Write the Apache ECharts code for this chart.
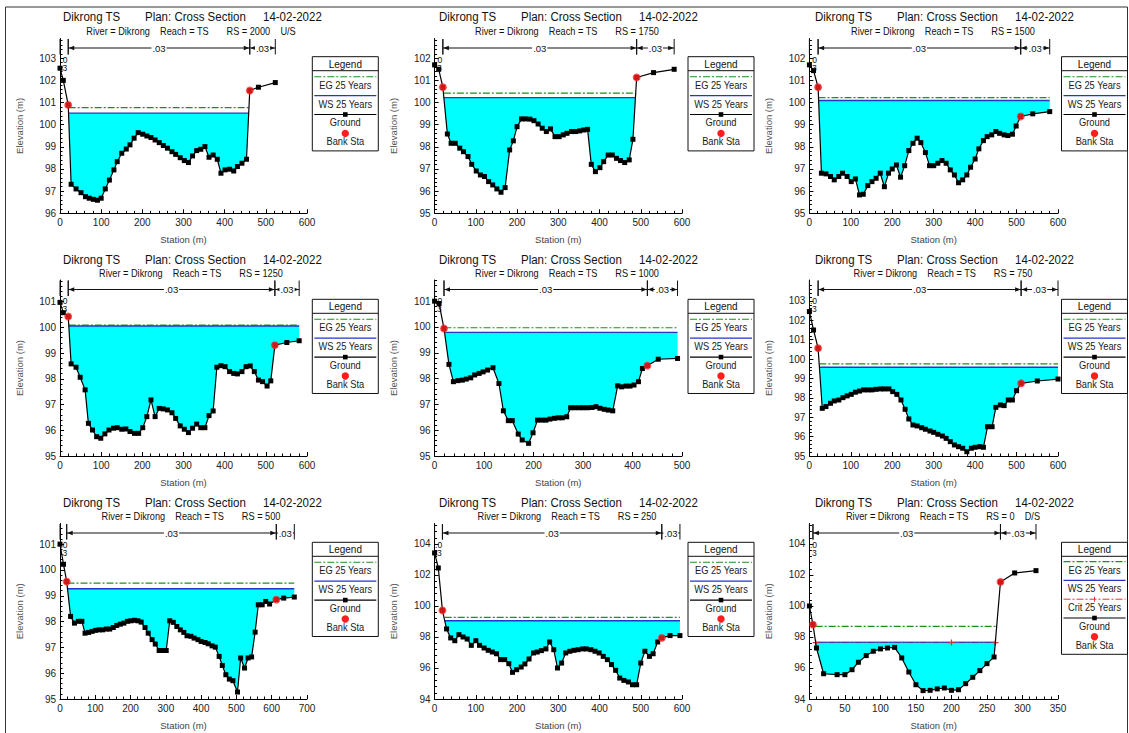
<!DOCTYPE html>
<html>
<head>
<meta charset="utf-8">
<title>Dikrong TS - Cross Sections</title>
<script src="https://cdn.jsdelivr.net/npm/echarts@6/dist/echarts.min.js"></script>
<style>
  html, body { margin: 0; padding: 0; background: #fff; }
  #chart { width: 1129px; height: 733px; }
</style>
</head>
<body>
<div id="chart"></div>
<script>
// ---- River stations (upstream to downstream) ----
const riverStations = ['2000', '1750', '1500', '1250', '1000', '750', '500', '250', '0'];
const stationNotes = ['U/S', '', '', '', '', '', '', '', 'D/S'];

// ---- Ground profiles: [station (m), elevation (m)] ----
const ground2000 = [[0,102.55],[8,102.0],[20,100.89],[27,97.31],[39,97.1],[51,96.93],[62,96.75],[71,96.68],[81,96.63],[91,96.59],[100,96.68],[110,97.1],[120,97.5],[131,97.96],[139,98.33],[150,98.71],[161,98.9],[170,99.09],[180,99.39],[190,99.64],[201,99.57],[211,99.49],[221,99.42],[231,99.31],[241,99.19],[251,99.06],[261,98.94],[272,98.78],[281,98.66],[292,98.51],[302,98.38],[312,98.29],[322,98.59],[332,98.83],[342,98.89],[352,99.01],[362,98.53],[372,98.63],[382,98.44],[391,97.81],[401,97.96],[412,97.99],[422,97.91],[431,98.11],[442,98.26],[453,98.44],[461,101.54],[482,101.69],[523,101.9]];
const ground1750 = [[0,101.7],[10,101.5],[20,100.69],[31,98.58],[40,98.16],[50,98.16],[61,97.94],[70,97.78],[81,97.56],[90,97.21],[101,96.91],[111,96.73],[121,96.66],[131,96.43],[141,96.28],[151,96.1],[161,95.95],[171,96.16],[182,97.86],[191,98.27],[200,98.91],[211,99.26],[220,99.26],[231,99.25],[241,99.18],[251,99.03],[261,98.84],[271,98.69],[281,98.81],[292,98.46],[302,98.46],[312,98.54],[321,98.61],[332,98.69],[342,98.69],[352,98.72],[362,98.76],[371,98.79],[380,97.21],[390,96.88],[401,97.06],[410,97.33],[421,97.63],[431,97.63],[441,97.48],[451,97.38],[461,97.29],[472,97.41],[481,98.34],[490,101.13],[531,101.35],[581,101.5]];
const ground1500 = [[0,101.7],[10,101.44],[21,100.69],[29,96.81],[40,96.78],[51,96.66],[60,96.51],[71,96.66],[80,96.81],[91,96.66],[101,96.43],[111,96.55],[121,95.83],[130,95.86],[141,96.25],[151,96.43],[161,96.58],[171,96.81],[181,96.2],[191,96.81],[200,97.0],[210,97.18],[220,96.63],[230,97.15],[240,97.83],[250,98.16],[260,98.39],[269,98.19],[280,97.74],[290,97.15],[300,97.15],[310,97.26],[320,97.38],[330,97.26],[340,96.96],[350,96.73],[360,96.38],[370,96.51],[380,96.73],[389,97.08],[400,97.45],[409,97.91],[420,98.28],[429,98.46],[440,98.54],[450,98.69],[459,98.61],[470,98.54],[479,98.51],[490,98.57],[499,98.94],[510,99.37],[539,99.49],[580,99.59]];
const ground1250 = [[0,100.97],[8,100.57],[20,100.42],[27,98.58],[39,98.45],[49,98.06],[61,97.57],[69,96.27],[79,96.01],[89,95.75],[99,95.69],[109,95.86],[119,96.01],[130,96.08],[139,96.1],[150,96.04],[160,96.05],[170,95.95],[181,95.88],[191,95.88],[201,96.1],[211,96.53],[221,97.18],[231,96.53],[241,96.85],[251,96.83],[261,96.79],[272,96.68],[281,96.46],[292,96.17],[302,96.04],[312,95.91],[322,96.08],[332,96.24],[342,96.1],[352,96.1],[362,96.57],[372,96.75],[381,98.45],[391,98.51],[401,98.47],[412,98.28],[422,98.21],[431,98.19],[442,98.28],[452,98.47],[462,98.5],[472,98.28],[482,97.95],[492,97.89],[503,97.72],[512,97.92],[522,99.31],[551,99.41],[581,99.48]];
const ground1000 = [[0,101.0],[9,100.91],[19,99.94],[29,98.55],[38,97.88],[47,97.92],[56,97.94],[64,97.98],[73,98.03],[81,98.14],[90,98.2],[98,98.26],[107,98.33],[118,98.42],[130,97.81],[139,96.75],[149,96.37],[157,96.37],[169,95.85],[177,95.62],[190,95.49],[199,95.9],[208,96.39],[217,96.39],[225,96.39],[233,96.43],[242,96.46],[250,96.48],[258,96.48],[267,96.52],[275,96.87],[283,96.87],[292,96.87],[300,96.87],[309,96.87],[318,96.88],[326,96.91],[334,96.85],[343,96.81],[351,96.78],[360,96.75],[370,97.72],[378,97.68],[387,97.71],[395,97.71],[403,97.75],[412,97.88],[420,98.39],[430,98.5],[452,98.75],[491,98.78]];
const ground750 = [[0,102.45],[10,101.5],[21,100.56],[31,97.46],[40,97.55],[51,97.72],[60,97.84],[71,97.89],[81,98.01],[91,98.1],[101,98.18],[111,98.29],[121,98.35],[131,98.41],[141,98.41],[151,98.41],[161,98.44],[172,98.46],[181,98.46],[192,98.46],[201,98.32],[211,98.18],[221,97.89],[231,97.41],[240,96.91],[250,96.6],[260,96.55],[271,96.46],[280,96.38],[291,96.29],[300,96.22],[310,96.12],[321,96.03],[330,95.91],[340,95.74],[350,95.57],[360,95.48],[370,95.4],[380,95.22],[391,95.4],[400,95.45],[411,95.48],[420,95.45],[430,96.51],[441,96.51],[450,97.51],[461,97.63],[470,97.6],[480,97.89],[490,97.89],[500,98.37],[511,98.75],[550,98.87],[600,98.97]];
const ground500 = [[0,101.0],[10,100.22],[19,99.55],[30,98.2],[41,97.94],[52,98.01],[62,98.01],[71,97.55],[81,97.58],[91,97.62],[101,97.66],[111,97.68],[121,97.68],[131,97.71],[141,97.71],[151,97.77],[161,97.85],[171,97.9],[181,97.94],[191,98.01],[201,98.03],[211,98.05],[221,98.03],[230,97.98],[241,97.77],[250,97.55],[261,97.3],[270,97.13],[281,96.88],[290,96.88],[301,96.88],[311,98.03],[321,97.97],[331,97.81],[341,97.68],[351,97.58],[360,97.45],[371,97.43],[380,97.36],[391,97.3],[400,97.23],[411,97.19],[420,97.14],[431,97.06],[440,97.01],[451,96.65],[460,96.3],[470,95.94],[480,95.77],[490,95.71],[503,95.27],[512,96.59],[523,96.2],[533,96.59],[543,96.63],[553,97.59],[562,98.65],[573,98.65],[583,98.78],[594,98.68],[613,98.85],[634,98.91],[664,98.95]];
const ground250 = [[0,103.42],[9,102.45],[19,99.72],[29,98.52],[39,97.94],[49,97.76],[59,98.15],[69,98.0],[79,97.87],[89,97.46],[100,97.76],[109,97.46],[120,97.29],[130,97.14],[140,97.03],[150,96.92],[160,96.54],[170,96.54],[180,96.28],[189,95.72],[199,95.89],[210,96.06],[219,96.26],[229,96.58],[240,96.97],[249,97.03],[259,97.12],[270,97.23],[279,97.68],[289,97.18],[298,96.0],[308,96.32],[318,96.97],[328,97.08],[338,97.14],[348,97.18],[359,97.23],[368,97.23],[379,97.18],[389,97.08],[399,96.97],[409,96.75],[419,96.54],[429,96.22],[439,95.85],[449,95.35],[459,95.2],[470,95.1],[480,94.92],[490,94.92],[500,96.32],[510,97.08],[521,96.75],[530,96.92],[541,97.68],[551,97.94],[571,98.09],[595,98.09]];
const ground0 = [[0,100.0],[5,98.8],[10,97.29],[20,95.63],[39,95.57],[50,95.57],[60,95.89],[69,96.37],[80,96.8],[90,97.08],[100,97.23],[110,97.29],[120,97.33],[130,96.65],[140,95.74],[150,94.92],[160,94.54],[170,94.56],[180,94.65],[190,94.71],[200,94.56],[210,94.6],[220,94.99],[230,95.4],[240,95.83],[250,96.28],[260,96.71],[269,101.55],[289,102.13],[319,102.28]];

// ---- Bank stations ----
const leftBankSta   = [20, 20, 21, 20, 19, 21, 19, 19, 5];
const leftBankElev  = [100.89, 100.69, 100.69, 100.42, 99.94, 100.56, 99.55, 99.72, 98.8];
const rightBankSta  = [461, 490, 510, 522, 430, 511, 613, 551, 269];
const rightBankElev = [101.54, 101.13, 99.37, 99.31, 98.5, 98.75, 98.85, 97.94, 101.55];

// ---- 25-year profile ----
const wsElev  = [100.52, 100.22, 100.09, 100.05, 99.79, 99.58, 99.27, 99.05, 97.66];
const egElev  = [100.77, 100.42, 100.22, 100.09, 99.97, 99.75, 99.49, 99.27, 98.69];
const wetFrom = [21, 22.5, 22, 21.4, 20, 24, 21.3, 24.6, 8.8];
const wetTo   = [458, 487, 580, 581, 491, 600, 664, 595, 262];
const critElevRS0 = 97.64;
const critStaRS0  = [8.8, 200, 262];

// ---- Manning's n regions: [start, left bank, right bank, end] ----
const nBreaks = [[0,20,461,523],[0,20,490,581],[0,21,510,580],[0,20,522,581],[0,19,430,491],[0,21,511,600],[0,19,613,664],[0,19,551,595],[0,5,269,319]];
const nValues = ['.03', '.03', '.03'];

// ---- Axis scales and tick labels ----
const xMaxes = [600, 600, 600, 600, 500, 600, 700, 600, 350];
const xSteps = [100, 100, 100, 100, 100, 100, 100, 100, 50];
const yMins  = [96, 95, 95, 95, 95, 95, 95, 94, 94];
const yTops  = [103.89, 102.89, 102.89, 101.84, 101.82, 104.08, 101.8, 105.32, 105.32];
const ySteps = [1, 1, 1, 1, 1, 1, 1, 2, 2];
const yTickLabels = [
  [96, 97, 98, 99, 100, 101, 102, 103],
  [95, 96, 97, 98, 99, 100, 101, 102],
  [95, 96, 97, 98, 99, 100, 101, 102],
  [95, 96, 97, 98, 99, 100, 101],
  [95, 96, 97, 98, 99, 100, 101],
  [95, 96, 97, 98, 99, 100, 101, 102, 103],
  [95, 96, 97, 98, 99, 100, 101],
  [94, 96, 98, 100, 102, 104],
  [94, 96, 98, 100, 102, 104]
];

const grounds = [ground2000, ground1750, ground1500, ground1250, ground1000, ground750, ground500, ground250, ground0];

// ---- Page layout ----
const FONT = '"Liberation Sans", Arial, sans-serif';
const colX = [0, 376, 752];
const plotLeft = [60, 434.6, 809.4];
const plotRight = [307, 682, 1058];
const plotTop = [38.5, 280, 523.5];
const plotBottom = [213.3, 456, 699];
const titleY = [17.3, 260.3, 503];
const subtitleY = [31.7, 273.7, 516.3];
const legendX = [312.3, 688, 1061.5];
const legendY = [56.7, 299.3, 542.3];

const C_EG = '#1f8f1f', C_WS = '#2236c8', C_CRIT = '#e0303a', C_WATER = '#00ffff', C_BANK = '#ff1e1e';
const DASHDOT = [7, 2, 2, 2];

// Water body: the ground profile closed along the water surface, keeping only the part
// that lies below the surface (screen y >= surface y).
function waterRenderer(profile) {
  return function (params, api) {
    const surfaceY = api.coord([api.value(0), api.value(1)])[1];
    const pts = profile.map(function (p) { return api.coord(p); });
    const ring = pts.concat([[pts[pts.length - 1][0], surfaceY], [pts[0][0], surfaceY]]);
    const wet = [];
    for (let k = 0; k < ring.length; k++) {
      const P = ring[k], Q = ring[(k + 1) % ring.length];
      const pIn = P[1] >= surfaceY, qIn = Q[1] >= surfaceY;
      if (pIn) wet.push(P);
      if (pIn !== qIn) {
        const t = (surfaceY - P[1]) / (Q[1] - P[1]);
        wet.push([P[0] + t * (Q[0] - P[0]), surfaceY]);
      }
    }
    return { type: 'polygon', shape: { points: wet }, style: { fill: C_WATER } };
  };
}

// Manning's n brackets drawn along the top of each plot
function bracketRenderer(labels) {
  return function (params, api) {
    const i = params.dataIndex;
    const a = api.coord([api.value(0), api.value(2)]);
    const b = api.coord([api.value(1), api.value(2)]);
    const top = a[1];
    const ay = top + 9.5;
    const ink = '#111';
    const kids = [
      { type: 'line', shape: { x1: a[0], y1: top + 0.5, x2: a[0], y2: top + 16 }, style: { stroke: ink, lineWidth: 1 } },
      { type: 'line', shape: { x1: b[0], y1: top + 0.5, x2: b[0], y2: top + 16 }, style: { stroke: ink, lineWidth: 1 } }
    ];
    if (b[0] - a[0] > 14) {
      kids.push({ type: 'line', shape: { x1: a[0], y1: ay, x2: b[0], y2: ay }, style: { stroke: ink, lineWidth: 1 } });
      kids.push({ type: 'polygon', shape: { points: [[a[0] + 0.5, ay], [a[0] + 6, ay - 2.3], [a[0] + 6, ay + 2.3]] }, style: { fill: ink } });
      kids.push({ type: 'polygon', shape: { points: [[b[0] - 0.5, ay], [b[0] - 6, ay - 2.3], [b[0] - 6, ay + 2.3]] }, style: { fill: ink } });
      kids.push({ type: 'text', x: (a[0] + b[0]) / 2, y: ay, style: {
        text: labels[i], font: '9.5px ' + FONT, fill: ink,
        align: 'center', textAlign: 'center', verticalAlign: 'middle', textVerticalAlign: 'middle',
        backgroundColor: '#fff', padding: [0, 1]
      } });
    } else {
      kids.push({ type: 'text', x: a[0] + 0.5, y: top + 21, style: {
        text: labels[i].slice(0, 2), font: '8.5px ' + FONT, fill: ink,
        align: 'left', textAlign: 'left', verticalAlign: 'middle', textVerticalAlign: 'middle' } });
      kids.push({ type: 'text', x: a[0] + 2.5, y: top + 29, style: {
        text: labels[i].slice(2), font: '8.5px ' + FONT, fill: ink,
        align: 'left', textAlign: 'left', verticalAlign: 'middle', textVerticalAlign: 'middle' } });
    }
    return { type: 'group', children: kids };
  };
}

function textEl(x, y, str, size, align, color, sx) {
  return { type: 'text', x: x, y: y, scaleX: sx || 1, silent: true, style: {
    text: str, font: size + 'px ' + FONT, fill: color || '#111',
    align: align, textAlign: align, verticalAlign: 'middle', textVerticalAlign: 'middle' } };
}

function legendGroup(c, r, withCrit) {
  const W = 66;
  const kinds = withCrit ? ['eg', 'ws', 'crit', 'ground', 'bank'] : ['eg', 'ws', 'ground', 'bank'];
  const names = { eg: 'EG 25 Years', ws: 'WS 25 Years', crit: 'Crit 25 Years', ground: 'Ground', bank: 'Bank Sta' };
  const step = withCrit ? 18.8 : 18.9;
  const first = withCrit ? 19.3 : 20;
  const H = first + step * (kinds.length - 1) + 8.3 + 9.2;
  const kids = [
    { type: 'rect', shape: { x: 0, y: 0, width: W, height: H }, style: { fill: '#fff', stroke: '#111', lineWidth: 1 } },
    textEl(W / 2, 7.3, 'Legend', 10.5, 'center', '#111', 0.95),
    { type: 'line', shape: { x1: 0, y1: 14, x2: W, y2: 14 }, style: { stroke: '#111', lineWidth: 1 } }
  ];
  kinds.forEach(function (k, j) {
    const ly = first + step * j;
    if (k === 'eg') kids.push({ type: 'line', shape: { x1: 2, y1: ly, x2: W - 2, y2: ly }, style: { stroke: C_EG, lineWidth: 1.1, lineDash: DASHDOT } });
    if (k === 'ws') kids.push({ type: 'line', shape: { x1: 2, y1: ly, x2: W - 2, y2: ly }, style: { stroke: C_WS, lineWidth: 1.3 } });
    if (k === 'crit') {
      kids.push({ type: 'line', shape: { x1: 2, y1: ly, x2: W - 2, y2: ly }, style: { stroke: C_CRIT, lineWidth: 1, lineDash: DASHDOT } });
      kids.push({ type: 'line', shape: { x1: W / 2, y1: ly - 2.5, x2: W / 2, y2: ly + 2.5 }, style: { stroke: C_CRIT, lineWidth: 1 } });
    }
    if (k === 'ground') {
      kids.push({ type: 'line', shape: { x1: 2, y1: ly, x2: W - 2, y2: ly }, style: { stroke: '#000', lineWidth: 1.2 } });
      kids.push({ type: 'rect', shape: { x: W / 2 - 2.3, y: ly - 2.3, width: 4.6, height: 4.6 }, style: { fill: '#000' } });
    }
    if (k === 'bank') kids.push({ type: 'circle', shape: { cx: W / 2, cy: ly, r: 3.7 }, style: { fill: C_BANK } });
    kids.push(textEl(W / 2, ly + 8.3, names[k], 10, 'center', '#1a1a1a', 0.93));
  });
  return { type: 'group', x: legendX[c], y: legendY[r], children: kids };
}

const grids = [], xAxes = [], yAxes = [], series = [], graphics = [];

// outer frame of the sheet
graphics.push({ type: 'rect', silent: true, shape: { x: 5.5, y: 7, width: 1122, height: 740 }, style: { fill: 'none', stroke: '#333', lineWidth: 1 } });

for (let i = 0; i < 9; i++) {
  const c = i % 3, r = Math.floor(i / 3);
  const left = plotLeft[c], top = plotTop[r];
  const width = plotRight[c] - plotLeft[c], height = plotBottom[r] - plotTop[r];

  grids.push({ left: left, top: top, width: width, height: height, containLabel: false, outerBoundsMode: 'none' });

  xAxes.push({
    gridIndex: i, type: 'value', min: 0, max: xMaxes[i], interval: xSteps[i],
    axisLine: { show: true, onZero: false, lineStyle: { color: '#000', width: 1 } },
    axisTick: { show: true, inside: true, length: 4, lineStyle: { color: '#000' } },
    minorTick: { show: true, splitNumber: 5, length: 2.5, lineStyle: { color: '#000' } },
    splitLine: { show: false }, minorSplitLine: { show: false },
    axisLabel: { fontSize: 10, color: '#222', margin: 4, fontFamily: FONT },
    name: 'Station (m)', nameLocation: 'middle', nameGap: 21, nameMoveOverlap: false,
    nameTextStyle: { fontSize: 9.5, color: '#444', fontFamily: FONT }
  });
  yAxes.push({
    gridIndex: i, type: 'value', min: yMins[i], max: yTops[i], interval: ySteps[i],
    axisLine: { show: true, onZero: false, lineStyle: { color: '#000', width: 1 } },
    axisTick: { show: true, inside: true, length: 4, lineStyle: { color: '#000' }, customValues: yTickLabels[i] },
    minorTick: { show: true, splitNumber: 5, length: 2.5, lineStyle: { color: '#000' } },
    splitLine: { show: false }, minorSplitLine: { show: false },
    axisLabel: { fontSize: 10, color: '#222', margin: 4, fontFamily: FONT, customValues: yTickLabels[i],
      formatter: function (v) { return Number.isInteger(v) ? String(v) : ''; } },
    name: 'Elevation (m)', nameLocation: 'middle', nameGap: 36, nameMoveOverlap: false,
    nameTextStyle: { fontSize: 9.5, color: '#555', fontFamily: FONT }
  });

  // Water body below the 25-year water surface
  series.push({
    name: 'Water', type: 'custom', coordinateSystem: 'cartesian2d', xAxisIndex: i, yAxisIndex: i,
    data: [[wetFrom[i], wsElev[i]]], encode: { x: 0, y: 1 },
    renderItem: waterRenderer(grounds[i]), silent: true, z: 1, clip: false
  });
  // Ground line
  series.push({
    name: 'Ground', type: 'line', xAxisIndex: i, yAxisIndex: i, data: grounds[i],
    symbol: 'rect', symbolSize: 5, showSymbol: true, clip: false, z: 6,
    itemStyle: { color: '#000' }, lineStyle: { color: '#000', width: 1.2 }, silent: true
  });
  // Energy grade and water surface
  series.push({
    name: 'EG 25 Years', type: 'line', xAxisIndex: i, yAxisIndex: i,
    data: [[wetFrom[i], egElev[i]], [wetTo[i], egElev[i]]], symbol: 'none', z: 4, silent: true,
    lineStyle: { color: C_EG, width: 1.2, type: DASHDOT }
  });
  if (i === 8) {
    series.push({
      name: 'Crit 25 Years', type: 'line', xAxisIndex: i, yAxisIndex: i,
      data: critStaRS0.map(function (s) { return [s, critElevRS0]; }),
      symbol: 'path://M4,0H6V4H10V6H6V10H4V6H0V4H4Z', symbolSize: 6, z: 4, silent: true,
      itemStyle: { color: C_CRIT }, lineStyle: { color: C_CRIT, width: 1, type: DASHDOT }
    });
  }
  series.push({
    name: 'WS 25 Years', type: 'line', xAxisIndex: i, yAxisIndex: i,
    data: [[wetFrom[i], wsElev[i]], [wetTo[i], wsElev[i]]], symbol: 'none', z: 4, silent: true,
    lineStyle: { color: C_WS, width: 1.4, opacity: i === 8 ? 0.75 : 1 }
  });
  // Bank stations
  series.push({
    name: 'Bank Sta', type: 'scatter', xAxisIndex: i, yAxisIndex: i,
    data: [[leftBankSta[i], leftBankElev[i]], [rightBankSta[i], rightBankElev[i]]],
    symbol: 'circle', symbolSize: 7.8, itemStyle: { color: C_BANK }, z: 7, silent: true, clip: false
  });
  // Manning's n brackets
  const nb = nBreaks[i];
  series.push({
    type: 'custom', coordinateSystem: 'cartesian2d', xAxisIndex: i, yAxisIndex: i,
    data: [[nb[0], nb[1], yTops[i]], [nb[1], nb[2], yTops[i]], [nb[2], nb[3], yTops[i]]],
    encode: { x: [0, 1], y: 2 }, renderItem: bracketRenderer(nValues), silent: true, z: 3, clip: false
  });

  // Titles
  const cx = colX[c];
  graphics.push(textEl(cx + 63, titleY[r], 'Dikrong TS', 12.5, 'left', '#111', 0.92));
  graphics.push(textEl(cx + 145, titleY[r], 'Plan: Cross Section', 12.5, 'left', '#111', 0.92));
  graphics.push(textEl(cx + 263, titleY[r], '14-02-2022', 12.5, 'left', '#111', 0.92));
  const gap4 = '\u00a0\u00a0\u00a0\u00a0', gap7 = '\u00a0\u00a0\u00a0\u00a0\u00a0\u00a0\u00a0';
  let sub = 'River = Dikrong' + gap4 + 'Reach = TS' + gap7 + 'RS = ' + riverStations[i];
  if (stationNotes[i]) sub += gap4 + stationNotes[i];
  graphics.push(textEl(cx + 191, subtitleY[r], sub, 10, 'center', '#111', 0.92));

  // Legend box
  graphics.push(legendGroup(c, r, i === 8));
}

const chart = echarts.init(document.getElementById('chart'), null, { renderer: 'svg' });
chart.setOption({
  animation: false,
  backgroundColor: '#fff',
  textStyle: { fontFamily: FONT },
  grid: grids,
  xAxis: xAxes,
  yAxis: yAxes,
  series: series,
  graphic: { elements: graphics }
});
</script>
</body>
</html>
